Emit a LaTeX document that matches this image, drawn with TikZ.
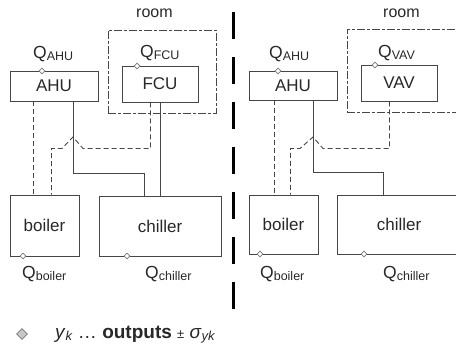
\documentclass[tikz,border=0pt]{standalone}
\usepackage{fontspec}
\setmainfont{Liberation Sans}
\usepackage{xcolor}
\usetikzlibrary{shapes.geometric}

\definecolor{linegray}{RGB}{70,70,70}
\definecolor{txtgray}{RGB}{40,40,40}
\definecolor{portgray}{RGB}{120,120,120}
\definecolor{keyfill}{RGB}{200,200,200}

\newcommand{\qsub}[1]{{\fontsize{17.5}{17.5}\selectfont Q}\raisebox{-1.5pt}{\fontsize{12.5}{12.5}\selectfont #1}}

\begin{document}
\begin{tikzpicture}[x=1pt,y=-1pt,
  unit/.style={draw=linegray, line width=0.8pt, text=txtgray, font=\fontsize{17}{17}\selectfont, inner sep=0pt},
  roombox/.style={draw=linegray, line width=0.8pt, dash pattern=on 8pt off 2pt on 3pt off 2pt, inner sep=0pt},
  port/.style={diamond, draw=portgray, fill=white, line width=0.6pt, inner sep=0pt, minimum size=6pt},
  lbl/.style={text=txtgray, inner sep=0pt},
  pipe/.style={draw=linegray, line width=0.8pt},
  sig/.style={draw=linegray, line width=0.9pt, dash pattern=on 5pt off 3pt},
  divider/.style={line width=3pt, dash pattern=on 27pt off 18pt}
]
\useasboundingbox (0,0) rectangle (456,347);
\clip (0,0) rectangle (456,347);

\node[roombox, minimum width=108pt, minimum height=83pt] (roomA) at (162,71.5) {};
\node[roombox, minimum width=110pt, minimum height=83pt] (roomB) at (402,70.5) {};
\node[lbl, anchor=base west, font=\fontsize{16}{16}\selectfont] (roomtxtA) at (136,18) {room};
\node[lbl, anchor=base west, font=\fontsize{16}{16}\selectfont] (roomtxtB) at (383,18) {room};

\node[unit, minimum width=88pt, minimum height=30pt] (ahuA) at (54,86) {AHU};
\node[unit, minimum width=76pt, minimum height=36pt] (fcu) at (160,84) {FCU};
\node[unit, minimum width=69pt, minimum height=61pt] (boilerA) at (44.5,225.5) {boiler};
\node[unit, minimum width=122pt, minimum height=60pt] (chillerA) at (160,226) {chiller};

\node[unit, minimum width=88pt, minimum height=29pt] (ahuB) at (293,85.5) {AHU};
\node[unit, minimum width=76pt, minimum height=36pt] (vav) at (399,83) {VAV};
\node[unit, minimum width=69pt, minimum height=59pt] (boilerB) at (283.5,224.5) {boiler};
\node[unit, minimum width=124pt, minimum height=59pt] (chillerB) at (399,224.5) {chiller};

\node[port] (pahuA) at (42,71) {};
\node[port] (pfcu) at (137,66) {};
\node[port] (pboilerA) at (23,256) {};
\node[port] (pchillerA) at (127,256) {};
\node[port] (pahuB) at (278,71) {};
\node[port] (pvav) at (375,65) {};
\node[port] (pboilerB) at (260,254) {};
\node[port] (pchillerB) at (364,254) {};

\node[lbl, anchor=base west] (qahuA) at (33,59) {\qsub{AHU}};
\node[lbl, anchor=base west] (qfcu) at (140,58) {\qsub{FCU}};
\node[lbl, anchor=base west] (qboilerA) at (22,279) {\qsub{boiler}};
\node[lbl, anchor=base west] (qchillerA) at (145,279) {\qsub{chiller}};
\node[lbl, anchor=base west] (qahuB) at (269,59) {\qsub{AHU}};
\node[lbl, anchor=base west] (qvav) at (378,58) {\qsub{VAV}};
\node[lbl, anchor=base west] (qboilerB) at (260,279) {\qsub{boiler}};
\node[lbl, anchor=base west] (qchillerB) at (383,279) {\qsub{chiller}};

\coordinate (hopA) at (73,137);
\coordinate (hopB) at (313,137);

\draw[sig] (ahuA.south -| 33,0) -- (boilerA.north -| 33,0);
\draw[pipe] (ahuA.south -| hopA) -- (73,173) -- (144,173) -- (chillerA.north -| 144,0);
\draw[pipe] (fcu.south -| 160,0) -- (chillerA.north -| 160,0);
\draw[sig] (fcu.south -| 150.5,0) -- (150.5,148.5) -- (83,148.5) -- (hopA) -- (62,148.5) -- (51.5,148.5) -- (boilerA.north -| 51.5,0);

\draw[sig] (ahuB.south -| 274,0) -- (boilerB.north -| 274,0);
\draw[pipe] (ahuB.south -| hopB) -- (313,172) -- (383,172) -- (chillerB.north -| 383,0);
\draw[sig] (vav.south -| 389.5,0) -- (389.5,148.5) -- (323,148.5) -- (hopB) -- (300,148.5) -- (290.5,148.5) -- (boilerB.north -| 290.5,0);

\draw[divider] (233,12) -- (233,312);

\node[port, fill=keyfill, minimum size=11pt] (key) at (22,334) {};
\node[lbl, anchor=base west, font=\fontsize{19}{19}\selectfont] (keytxt) at (55,339)
  {\textit{y}\raisebox{-1.5pt}{\fontsize{13}{13}\selectfont\textit{k}} … \textbf{outputs} {\fontsize{13}{13}\selectfont ±} \textit{σ}\raisebox{-1.5pt}{\fontsize{13}{13}\selectfont\textit{yk}}};
\end{tikzpicture}
\end{document}
